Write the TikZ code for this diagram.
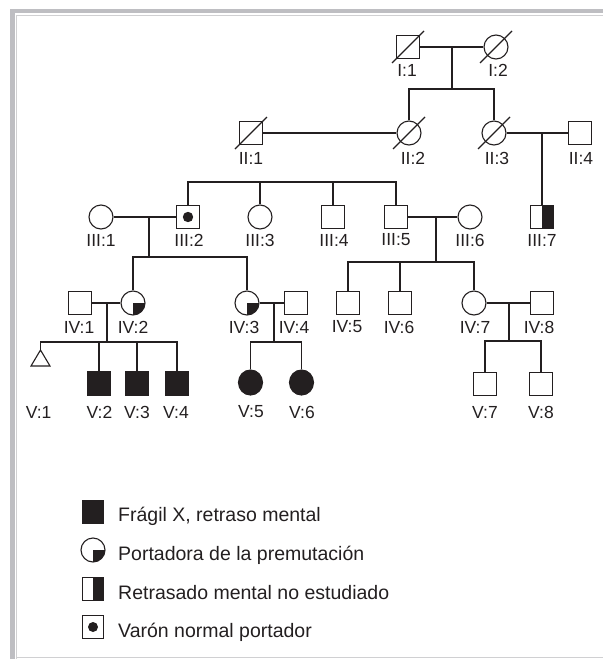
\documentclass[tikz,border=0pt]{standalone}
\usepackage{fontspec}
\setmainfont{Liberation Sans}
\usetikzlibrary{shapes.geometric}
\definecolor{lc}{RGB}{35,31,32}
\definecolor{fr}{RGB}{190,190,194}
\definecolor{frl}{RGB}{208,208,210}
\newcommand\decsl[1]{\draw[ln] ([shift={(-16,16)}]#1.center) -- ([shift={(16,-16)}]#1.center);}
\newcommand\carq[1]{\begin{scope}\clip (#1.center) rectangle ++(20,20);\fill[lc] (#1.center) circle[radius=12pt];\end{scope}}
\begin{document}
\begin{tikzpicture}[x=1pt,y=-1pt,
  ln/.style={line width=1.1pt, draw=lc},
  thk/.style={line width=1.7pt, draw=lc},
  male/.style={draw=lc, line width=1.1pt, rectangle, minimum size=23pt, inner sep=0pt, fill=white},
  female/.style={draw=lc, line width=1.1pt, circle, minimum size=24pt, inner sep=0pt, fill=white},
  aff/.style={fill=lc},
  lab/.style={font=\fontsize{17.5}{18}\selectfont, inner sep=0pt, text=lc},
  leg/.style={font=\fontsize{19.5}{20}\selectfont, inner sep=0pt, text=lc, anchor=base west},
  ]
\useasboundingbox (0,0) rectangle (603,659);
% frame
\fill[fr] (10,9) rectangle (603,13.3);
\fill[fr] (10,9) rectangle (15,659);
\draw[frl, line width=1.2pt] (16.8,659) -- (16.8,15.8) -- (603,15.8);
\draw[frl, line width=1.2pt] (16.8,657.6) -- (603,657.6);

% Generation I
\node[male] (i1) at (408,47) {};
\node[female] (i2) at (496,47) {};
% Generation II
\node[male] (ii1) at (251,133) {};
\node[female] (ii2) at (409,133) {};
\node[female] (ii3) at (494,133) {};
\node[male] (ii4) at (580,133) {};
% Generation III
\node[female] (iii1) at (101,217) {};
\node[male] (iii2) at (188,217) {};
\node[female] (iii3) at (260,217) {};
\node[male] (iii4) at (333,217) {};
\node[male] (iii5) at (396,217) {};
\node[female] (iii6) at (470,217) {};
\node[male] (iii7) at (542,217) {};
% Generation IV
\node[male] (iv1) at (80,303) {};
\node[female] (iv2) at (133,303) {};
\node[female] (iv3) at (247,303) {};
\node[male] (iv4) at (296,303) {};
\node[male] (iv5) at (348,303) {};
\node[male] (iv6) at (400,303) {};
\node[female] (iv7) at (474,303) {};
\node[male] (iv8) at (542,303) {};
% Generation V
\coordinate (v1) at (40.5,350);
\draw[ln] (v1) -- ++(9.5,16) -- ++(-19,0) -- cycle;
\node[male, aff] (v2) at (99,383.5) {};
\node[male, aff] (v3) at (137,383.5) {};
\node[male, aff] (v4) at (177,383.5) {};
\node[ellipse, draw=lc, line width=1.1pt, minimum width=24pt, minimum height=25pt, inner sep=0pt, aff] (v5) at (250.5,382.5) {};
\node[ellipse, draw=lc, line width=1.1pt, minimum width=24pt, minimum height=25pt, inner sep=0pt, aff] (v6) at (301.5,382.5) {};
\node[male] (v7) at (485,384) {};
\node[male] (v8) at (541,384) {};

% markings
\decsl{i1} \decsl{i2} \decsl{ii1} \decsl{ii2} \decsl{ii3}
\fill[lc] (iii2.center) circle[radius=5.2pt];
\fill[lc] (iii7.north) rectangle (iii7.south east);
\carq{iv2} \carq{iv3}

% connectors
\draw[ln] (i1.east) -- (i2.west);
\coordinate (d1) at (452,47); \coordinate (s1) at (452,89);
\draw[ln] (d1) -- (s1);
\draw[ln] (ii2.north) |- (s1) -| (ii3.north);

\draw[ln] (ii1.east) -- (ii2.west);
\coordinate (s2) at (292,182);
\draw[ln] (iii2.north) |- (s2) -| (iii5.north);
\draw[ln] (iii3.north) -- (iii3.north |- s2);
\draw[ln] (iii4.north) -- (iii4.north |- s2);

\draw[ln] (ii3.east) -- (ii4.west);
\coordinate (d3) at (542,133);
\draw[ln] (d3) -- (iii7.north);

\draw[ln] (iii1.east) -- (iii2.west);
\coordinate (d4) at (149,217); \coordinate (s4) at (149,257);
\draw[ln] (d4) -- (s4);
\draw[ln] (iv2.north) |- (s4) -| (iv3.north);

\draw[ln] (iii5.east) -- (iii6.west);
\coordinate (d5) at (436,217); \coordinate (s5) at (436,262);
\draw[ln] (d5) -- (s5);
\draw[ln] (iv5.north) |- (s5) -| (iv7.north);
\draw[ln] (iv6.north) -- (iv6.north |- s5);

\draw[ln] (iv1.east) -- (iv2.west);
\coordinate (d6) at (107,303); \coordinate (s6) at (107,342);
\draw[ln] (d6) -- (s6);
\draw[ln] (v1) |- (s6) -| (v4.north);
\draw[ln] (v2.north) -- (v2.north |- s6);
\draw[ln] (v3.north) -- (v3.north |- s6);

\draw[ln] (iv3.east) -- (iv4.west);
\coordinate (d7) at (274,303); \coordinate (s7) at (274,342);
\draw[ln] (d7) -- (s7);
\draw[ln] (v5.north) |- (s7) -| (v6.north);

\draw[ln] (iv7.east) -- (iv8.west);
\coordinate (d8) at (509,303); \coordinate (s8) at (509,341);
\draw[thk] (d8) -- (s8);
\draw[thk] (v7.north) |- (s8) -| (v8.north);

% labels
\node[lab] (li1) at (407,70) {I:1};
\node[lab] (li2) at (498,70) {I:2};
\node[lab] (lii1) at (251,158) {II:1};
\node[lab] (lii2) at (413,158) {II:2};
\node[lab] (lii3) at (497,158) {II:3};
\node[lab] (lii4) at (581,158) {II:4};
\node[lab] (liii1) at (101,240) {III:1};
\node[lab] (liii2) at (189,240) {III:2};
\node[lab] (liii3) at (260,240) {III:3};
\node[lab] (liii4) at (334,240) {III:4};
\node[lab] (liii5) at (396,240) {III:5};
\node[lab] (liii6) at (470,240) {III:6};
\node[lab] (liii7) at (542,240) {III:7};
\node[lab] (liv1) at (79,327) {IV:1};
\node[lab] (liv2) at (133,327) {IV:2};
\node[lab] (liv3) at (244,327) {IV:3};
\node[lab] (liv4) at (294,327) {IV:4};
\node[lab] (liv5) at (347,327) {IV:5};
\node[lab] (liv6) at (399,327) {IV:6};
\node[lab] (liv7) at (475,327) {IV:7};
\node[lab] (liv8) at (539,327) {IV:8};
\node[lab] (lv1) at (38.6,412) {V:1};
\node[lab] (lv2) at (99.5,412) {V:2};
\node[lab] (lv3) at (137,412) {V:3};
\node[lab] (lv4) at (176,412) {V:4};
\node[lab] (lv5) at (251,412) {V:5};
\node[lab] (lv6) at (302,412) {V:6};
\node[lab] (lv7) at (485,412) {V:7};
\node[lab] (lv8) at (541,412) {V:8};

% legend
\node[male, aff, minimum width=21pt, minimum height=23pt] (k1) at (93,512) {};
\node[female] (k2) at (93,550) {};
\carq{k2}
\node[male, minimum width=21pt, minimum height=23pt] (k3) at (93,589) {};
\fill[lc] (k3.north) rectangle (k3.south east);
\node[male, minimum width=21pt, minimum height=23pt] (k4) at (93,627) {};
\fill[lc] (k4.center) circle[radius=5pt];
\node[leg] (t1) at (118,521) {Frágil X, retraso mental};
\node[leg] (t2) at (118,560) {Portadora de la premutación};
\node[leg] (t3) at (118,599) {Retrasado mental no estudiado};
\node[leg] (t4) at (118,637.5) {Varón normal portador};
\end{tikzpicture}
\end{document}
